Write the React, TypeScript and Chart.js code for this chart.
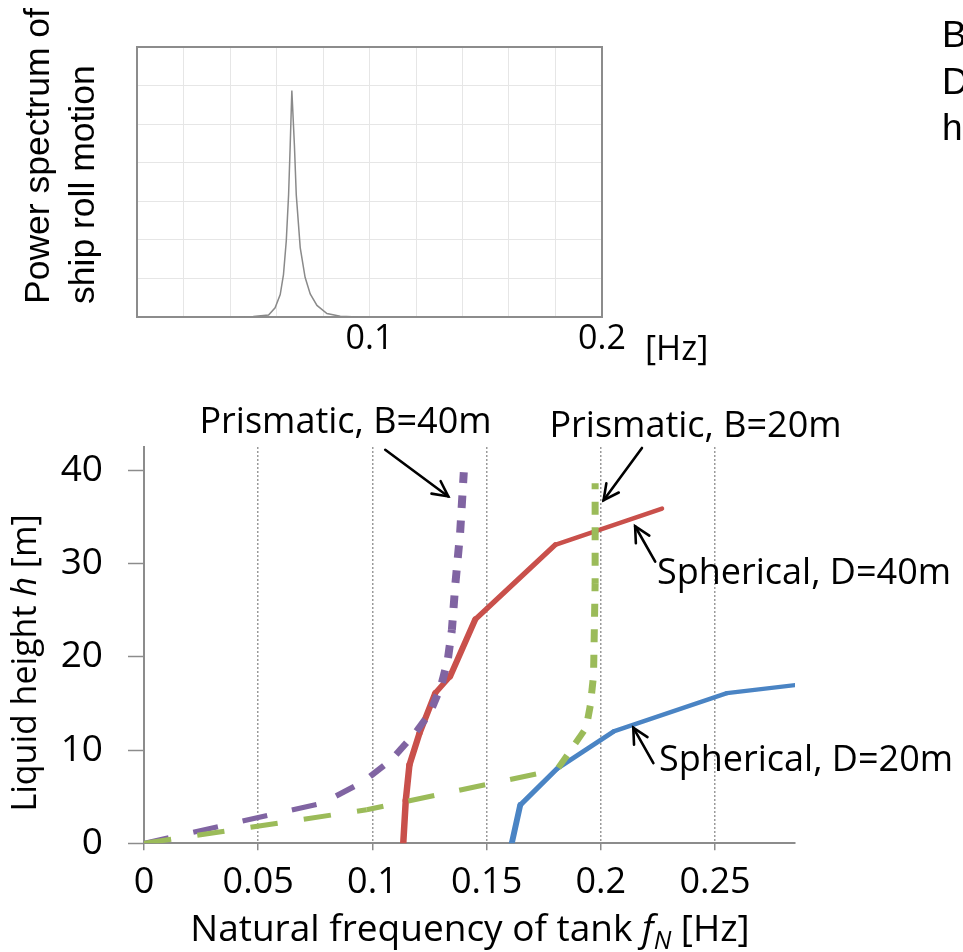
import React, { useEffect, useRef } from 'react';
import { Chart, registerables } from 'chart.js';

Chart.register(...registerables);

// ---------------- Top panel: power spectrum of ship roll motion ----------------
const SPEC_FREQ = [0.044, 0.05, 0.0566, 0.0594, 0.0616, 0.063, 0.0642, 0.0652, 0.0659, 0.0666, 0.0677, 0.0685, 0.0702, 0.0723, 0.0745, 0.0774, 0.0817, 0.0874, 0.095, 0.1];
const SPEC_POWER = [0, 0.01, 0.05, 0.24, 0.58, 1.1, 1.97, 3.17, 4.46, 5.87, 4.46, 3.17, 1.8, 1.03, 0.6, 0.3, 0.09, 0.02, 0, 0];
const SPEC_LABELLED_TICKS = [0.1, 0.2];

// ---------------- Bottom panel: natural frequency of tank vs liquid height ----------------
const SPH40_FREQ = [0.1135, 0.1146, 0.1162, 0.1206, 0.1275, 0.134, 0.145, 0.18, 0.2268];
const SPH40_H = [0, 4.6, 8.4, 11.8, 16.1, 17.9, 24, 32, 35.9];

const SPH20_FREQ = [0.161, 0.1647, 0.1808, 0.2056, 0.2552, 0.29];
const SPH20_H = [0, 4.1, 8, 12, 16.1, 17.1];

const PRI40_FREQ = [0, 0.078, 0.096, 0.108, 0.118, 0.125, 0.13, 0.133, 0.1348, 0.1362, 0.1384, 0.14];
const PRI40_H = [0, 4.3, 6.6, 8.9, 11.6, 13.9, 16.8, 19.7, 22.9, 27.5, 33.3, 39.8];

const PRI20_FREQ = [0, 0.0975, 0.1808, 0.186, 0.1936, 0.1954, 0.1968, 0.1975, 0.1975];
const PRI20_H = [0, 3.6, 7.9, 9.7, 12.4, 14.8, 18, 27.9, 38.6];

const ARROWS = [
  { from: [0.1056, 42.2], to: [0.1332, 37.2] },
  { from: [0.218, 42.4], to: [0.2012, 36.8] },
  { from: [0.2238, 30.2], to: [0.215, 34.0] },
  { from: [0.223, 8.6], to: [0.2142, 12.4] },
];

const CAL = "'Open Sans', 'Noto Sans', sans-serif";
const ARIAL = "'Liberation Sans', Arial, sans-serif";

// The original figure is stretched horizontally; dashes and widths depend on direction.
const STRETCH = 2.2;

function geom(p0: any, p1: any) {
  const dx = p1.x - p0.x;
  const dy = p1.y - p0.y;
  const len = Math.hypot(dx, dy) || 1e-6;
  const c = Math.abs(dx) / len;
  const s = Math.abs(dy) / len;
  const L = 1 / Math.sqrt((c * c) / (STRETCH * STRETCH) + s * s);
  return { len, c, s, L };
}

type LineStyle = { dashed: boolean; dash: number; gap: number; wH: number; wV: number };

function segmentFor(st: LineStyle) {
  return {
    borderWidth: (ctx: any) => {
      const g = geom(ctx.p0, ctx.p1);
      return st.wH * g.c * g.c + st.wV * g.s * g.s;
    },
    borderDash: (ctx: any) => {
      if (!st.dashed) return [];
      const g = geom(ctx.p0, ctx.p1);
      return [st.dash * g.L, st.gap * g.L];
    },
    borderDashOffset: (ctx: any) => {
      if (!st.dashed) return 0;
      const pts = ctx.chart.getDatasetMeta(ctx.datasetIndex).data;
      let cum = 0;
      for (let i = 0; i < ctx.p0DataIndex; i++) {
        const g = geom(pts[i], pts[i + 1]);
        cum += g.len / g.L;
      }
      const period = st.dash + st.gap;
      const g = geom(ctx.p0, ctx.p1);
      return (cum % period) * g.L;
    },
  };
}

function series(label: string, freq: number[], h: number[], color: string, st: LineStyle, order: number) {
  return {
    label,
    data: freq.map((f, i) => ({ x: f, y: h[i] })),
    borderColor: color,
    backgroundColor: color,
    borderWidth: st.wH,
    borderCapStyle: st.dashed ? 'butt' : 'round',
    borderJoinStyle: 'round',
    pointRadius: 0,
    tension: 0,
    fill: false,
    order,
    segment: segmentFor(st),
  };
}

const framePlugin = {
  id: 'frame',
  beforeDatasetsDraw(chart: any) {
    const { ctx, chartArea: a } = chart;
    ctx.save();
    ctx.strokeStyle = '#8c8c8c';
    ctx.lineWidth = 2;
    ctx.strokeRect(a.left, a.top, a.right - a.left, a.bottom - a.top);
    ctx.restore();
  },
};

const arrowPlugin = {
  id: 'arrows',
  afterDatasetsDraw(chart: any) {
    const { ctx } = chart;
    const xs = chart.scales.x;
    const ys = chart.scales.y;
    ctx.save();
    ctx.strokeStyle = '#000';
    ctx.lineWidth = 2.6;
    ctx.lineCap = 'round';
    ctx.lineJoin = 'miter';
    for (const a of ARROWS) {
      const x1 = xs.getPixelForValue(a.from[0]);
      const y1 = ys.getPixelForValue(a.from[1]);
      const x2 = xs.getPixelForValue(a.to[0]);
      const y2 = ys.getPixelForValue(a.to[1]);
      ctx.beginPath();
      ctx.moveTo(x1, y1);
      ctx.lineTo(x2, y2);
      ctx.stroke();
      const ang = Math.atan2(y1 - y2, x1 - x2);
      const hl = 17;
      const ha = (27 * Math.PI) / 180;
      ctx.beginPath();
      ctx.moveTo(x2 + hl * Math.cos(ang + ha), y2 + hl * Math.sin(ang + ha));
      ctx.lineTo(x2, y2);
      ctx.lineTo(x2 + hl * Math.cos(ang - ha), y2 + hl * Math.sin(ang - ha));
      ctx.stroke();
    }
    ctx.restore();
  },
};

function topConfig(): any {
  return {
    type: 'line',
    data: {
      datasets: [
        {
          label: 'Power spectrum',
          data: SPEC_FREQ.map((f, i) => ({ x: f, y: SPEC_POWER[i] })),
          borderColor: '#8a8a8a',
          borderWidth: 1.5,
          pointRadius: 0,
          tension: 0,
          fill: false,
        },
      ],
    },
    options: {
      animation: false,
      responsive: false,
      devicePixelRatio: 1,
      events: [],
      layout: { padding: { top: 47, right: 118, left: 0, bottom: 0 } },
      plugins: { legend: { display: false }, tooltip: { enabled: false } },
      scales: {
        x: {
          type: 'linear',
          min: 0,
          max: 0.2,
          ticks: {
            stepSize: 0.02,
            autoSkip: false,
            maxRotation: 0,
            padding: 2,
            color: '#000',
            font: { family: CAL, size: 34 },
            callback: (v: number) => (SPEC_LABELLED_TICKS.some((t) => Math.abs(t - v) < 1e-9) ? String(v) : ''),
          },
          grid: { color: '#e6e6e6', lineWidth: 1, drawTicks: false },
          border: { color: '#8c8c8c', width: 2 },
          afterFit: (s: any) => {
            s.height = 63;
          },
        },
        y: {
          type: 'linear',
          min: 0,
          max: 7,
          ticks: { display: false, stepSize: 1 },
          grid: { color: '#e6e6e6', lineWidth: 1, drawTicks: false },
          border: { color: '#8c8c8c', width: 2 },
          afterFit: (s: any) => {
            s.width = 137;
          },
        },
      },
    },
    plugins: [framePlugin],
  };
}

function bottomConfig(): any {
  return {
    type: 'line',
    data: {
      datasets: [
        series('Prismatic, B=20m', PRI20_FREQ, PRI20_H, '#9BBB59', { dashed: true, dash: 13, gap: 12.5, wH: 5, wV: 7 }, 1),
        series('Prismatic, B=40m', PRI40_FREQ, PRI40_H, '#8064A2', { dashed: true, dash: 12.5, gap: 12.5, wH: 5, wV: 8 }, 2),
        series('Spherical, D=20m', SPH20_FREQ, SPH20_H, '#4A84C4', { dashed: false, dash: 0, gap: 0, wH: 4.2, wV: 6 }, 3),
        series('Spherical, D=40m', SPH40_FREQ, SPH40_H, '#C9504B', { dashed: false, dash: 0, gap: 0, wH: 4.2, wV: 6.5 }, 4),
      ],
    },
    options: {
      animation: false,
      responsive: false,
      devicePixelRatio: 1,
      events: [],
      layout: { padding: { top: 57, right: 168, left: 0, bottom: 0 } },
      plugins: { legend: { display: false }, tooltip: { enabled: false } },
      scales: {
        x: {
          type: 'linear',
          min: 0,
          max: 0.285,
          ticks: {
            stepSize: 0.05,
            includeBounds: false,
            autoSkip: false,
            maxRotation: 0,
            padding: 11,
            color: '#000',
            font: { family: CAL, size: 36 },
            callback: (v: number) => String(Math.round(v * 100) / 100),
          },
          grid: { color: '#9a9a9a', lineWidth: 1.5, drawTicks: true, tickLength: 7, tickColor: '#8c8c8c', tickWidth: 1.5 },
          border: { color: '#8c8c8c', width: 2, dash: [2, 2] },
          afterFit: (s: any) => {
            s.height = 108.7;
          },
        },
        y: {
          type: 'linear',
          min: 0,
          max: 42.5,
          ticks: {
            stepSize: 10,
            includeBounds: false,
            padding: 25,
            color: '#000',
            font: { family: CAL, size: 37 },
          },
          grid: { drawOnChartArea: false, drawTicks: true, tickLength: 16, tickColor: '#8c8c8c', tickWidth: 1.5 },
          border: { color: '#8c8c8c', width: 2 },
          afterFit: (s: any) => {
            s.width = 144;
          },
        },
      },
    },
    plugins: [arrowPlugin],
  };
}

export default function App() {
  const topRef = useRef<HTMLCanvasElement>(null);
  const botRef = useRef<HTMLCanvasElement>(null);

  useEffect(() => {
    const top = new Chart(topRef.current as HTMLCanvasElement, topConfig());
    const bot = new Chart(botRef.current as HTMLCanvasElement, bottomConfig());
    return () => {
      top.destroy();
      bot.destroy();
    };
  }, []);

  return (
    <div style={{ position: 'absolute', left: 0, top: 0, width: 963, height: 952, overflow: 'hidden', background: '#fff' }}>
      <canvas ref={topRef} width={720} height={380} style={{ position: 'absolute', left: 0, top: 0, display: 'block' }} />
      <canvas ref={botRef} width={963} height={562} style={{ position: 'absolute', left: 0, top: 390, display: 'block' }} />
      <svg width={963} height={952} style={{ position: 'absolute', left: 0, top: 0, pointerEvents: 'none' }}>
        <g fontFamily={ARIAL} fill="#000">
          <text transform="translate(49,304) rotate(-90)" fontSize={35.5}>Power spectrum of</text>
          <text transform="translate(94,304) rotate(-90)" fontSize={35.5}>ship roll motion</text>
          <text x={942} y={47} fontSize={37}>B</text>
          <text x={942} y={94} fontSize={37}>D</text>
          <text x={942} y={140} fontSize={37}>h</text>
        </g>
        <g fontFamily={CAL} fill="#000">
          <text x={645} y={360} fontSize={34}>[Hz]</text>
          <text x={345.5} y={433} fontSize={36} textAnchor="middle">Prismatic, B=40m</text>
          <text x={695.5} y={437} fontSize={36} textAnchor="middle">Prismatic, B=20m</text>
          <text x={657} y={584} fontSize={36}>Spherical, D=40m</text>
          <text x={659} y={771} fontSize={36}>Spherical, D=20m</text>
          <text transform="translate(36,663) rotate(-90)" fontSize={34} textAnchor="middle">
            Liquid height <tspan fontStyle="italic">h</tspan> [m]
          </text>
          <text x={470} y={941} fontSize={37} textAnchor="middle">
            Natural frequency of tank <tspan fontStyle="italic">f</tspan>
            <tspan fontStyle="italic" fontSize={25} dy={8}>N</tspan>
            <tspan dy={-8}> [Hz]</tspan>
          </text>
        </g>
      </svg>
    </div>
  );
}
